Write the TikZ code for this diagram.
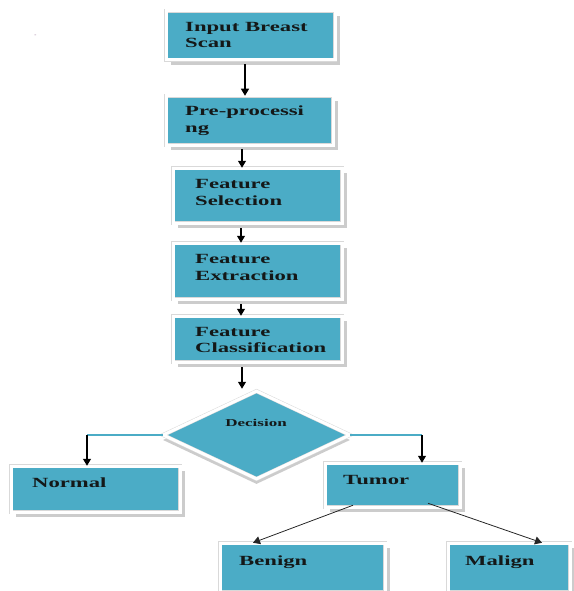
\documentclass[tikz,border=0pt]{standalone}
\usepackage{fontspec}
\newfontfamily\boxfont{Liberation Serif}[FakeStretch=1.62]
\usetikzlibrary{shapes.geometric,arrows.meta,shadows}
\definecolor{boxblue}{RGB}{75,172,198}
\definecolor{txt}{RGB}{20,24,24}
\tikzset{
  box/.style={rectangle, fill=boxblue, draw=gray!30, double=white, double distance=3pt, line width=0.5pt,
    inner sep=0pt, drop shadow={shadow xshift=5pt, shadow yshift=-5pt, fill=gray!40, opacity=1}},
  dia/.style={diamond, fill=boxblue, draw=gray!30, double=white, double distance=3pt, line width=0.5pt,
    inner sep=0pt, drop shadow={shadow xshift=0pt, shadow yshift=-5pt, fill=gray!40, opacity=1}},
  lbl/.style={inner sep=0pt, anchor=base west, align=left, text=txt,
    font=\boxfont\bfseries\fontsize{14}{16.5}\selectfont},
  arr/.style={draw=black, line width=1.1pt, -{Triangle[width=8pt,length=7pt]}},
  thin/.style={draw=black!85, line width=0.8pt, -{Triangle[width=8pt,length=7pt]}},
  bline/.style={draw=boxblue, line width=1.6pt},
}
\begin{document}
\begin{tikzpicture}[x=1pt,y=-1pt]
\useasboundingbox (0,0) rectangle (573,591);
% boxes
\node[box, minimum width=169pt, minimum height=49pt] (b1) at (250.5,35.5) {};
\node[box, minimum width=167pt, minimum height=49pt] (b2) at (249.5,120.5) {};
\node[box, minimum width=169pt, minimum height=55pt] (b3) at (257.5,195.5) {};
\node[box, minimum width=169pt, minimum height=56pt] (b4) at (257.5,271) {};
\node[box, minimum width=169pt, minimum height=46pt] (b5) at (257.5,339) {};
\node[dia, minimum width=187pt, minimum height=88pt] (d) at (256.5,435) {};
\node[box, minimum width=169pt, minimum height=46pt] (nor) at (95.5,489) {};
\node[box, minimum width=135pt, minimum height=44pt] (tum) at (392.5,485) {};
\node[box, minimum width=165pt, minimum height=49pt] (ben) at (302.5,567.5) {};
\node[box, minimum width=122pt, minimum height=49pt] (mal) at (509,567.5) {};
% texts (anchor base = baseline of last line)
\node[lbl] (t1) at (185,48) {Input Breast\\Scan};
\node[lbl] (t2) at (185,132) {Pre-processi\\ng};
\node[lbl] (t3) at (195,205) {Feature\\Selection};
\node[lbl] (t4) at (195,280) {Feature\\Extraction};
\node[lbl, font=\boxfont\bfseries\fontsize{14}{15.5}\selectfont] (t5) at (195,352) {Feature\\Classification};
\node[inner sep=0pt, anchor=base, text=txt, font=\boxfont\bfseries\fontsize{10.5}{12}\selectfont] (td) at (256,426) {Decision};
\node[lbl] (tn) at (32,487) {Normal};
\node[lbl] (tt) at (343,484) {Tumor};
\node[lbl] (tb) at (239,565) {Benign};
\node[lbl] (tm) at (465,565) {Malign};
\node[inner sep=0pt, text=gray!70!violet, font=\tiny] (mark) at (35.5,36) {-};
% arrows
\draw[arr] ([shift={(-5.5,4)}]b1.south) -- ([xshift=-4.5]b2.north);
\draw[arr] ([shift={(-7.5,4)}]b2.south) -- ([xshift=-15.5]b3.north);
\draw[arr] ([shift={(-16.5,5)}]b3.south) -- ([xshift=-16.5]b4.north);
\draw[arr] ([shift={(-16.5,5)}]b4.south) -- ([xshift=-16.5]b5.north);
\draw[arr] ([shift={(-15.5,5)}]b5.south) -- ([shift={(-14.5,-2)}]d.north);
\coordinate (lc) at (87,435);
\coordinate (rc) at (422,435);
\draw[bline] (d.west) -- (d.west |- lc) -- (lc);
\draw[arr] (lc) -- (lc |- nor.north);
\draw[bline] (d.east) -- (d.east |- rc) -- (rc);
\draw[arr] (rc) -- (rc |- tum.north);
\draw[thin] ([shift={(-39.5,-2)}]tum.south) -- ([xshift=-49.5]ben.north);
\draw[thin] ([shift={(35.5,-4)}]tum.south) -- ([xshift=33]mal.north);
\end{tikzpicture}
\end{document}
